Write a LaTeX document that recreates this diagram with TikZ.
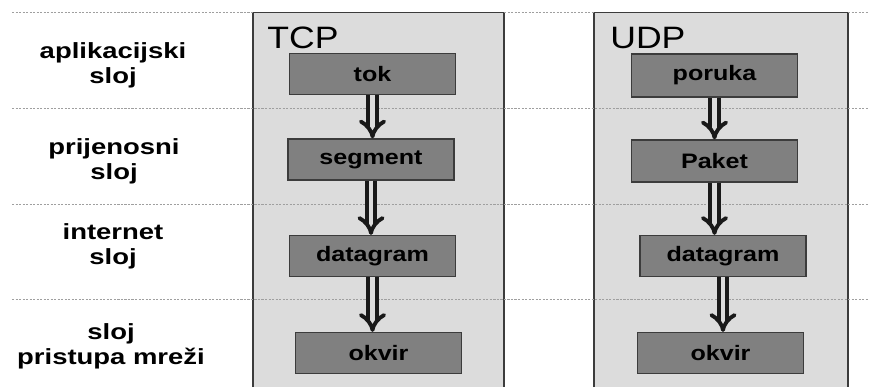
\documentclass[tikz,border=0pt]{standalone}
\usepackage{fontspec}
\setmainfont{Liberation Sans}
\newfontfamily\widesans[FakeStretch=1.25]{Liberation Sans}
\newfontfamily\boxsans[FakeStretch=1.2]{Liberation Sans}
\newfontfamily\titlesans[FakeStretch=1.15]{Liberation Sans}
\usetikzlibrary{arrows.meta}
\definecolor{panelgray}{HTML}{DCDCDC}
\definecolor{boxgray}{HTML}{808080}
\definecolor{edgegray}{HTML}{3C3C3C}
\tikzset{
  layertext/.style={align=center, inner sep=0pt,
    font=\widesans\bfseries\fontsize{12.5}{14.2}\selectfont},
  titletext/.style={anchor=base west, inner sep=0pt,
    font=\titlesans\fontsize{17.6}{18}\selectfont},
  unitbox/.style={draw=edgegray, line width=0.7pt, fill=boxgray,
    minimum width=3.32cm, minimum height=0.82cm, inner sep=0pt,
    font=\boxsans\bfseries\fontsize{11.9}{13}\selectfont},
  layerline/.style={gray!75, line width=0.4pt, dash pattern=on 1.2pt off 0.8pt},
  panel/.style={draw=edgegray, line width=0.7pt},
  downarrow/.style={draw=black!90, line width=2.2pt, double=panelgray,
    double distance=2.8pt, -{Implies[scale=1.2]}}
}
\begin{document}
\begin{tikzpicture}[x=0.02cm, y=-0.02cm]
                \useasboundingbox (0, 0) rectangle (869, 387);

                \fill[panelgray](253, 12.7) rectangle (504, 387);
                \draw[panel](253, 387) -- (253, 12.7) -- (504, 12.7) -- (504, 387);
                \fill[panelgray](594, 12.7) rectangle (848, 387);
                \draw[panel](594, 387) -- (594, 12.7) -- (848, 12.7) -- (848, 387);

                \draw[layerline](12, 12.7) to (253, 12.7);
                \draw[layerline](504, 12.7) to (594, 12.7);
                \draw[layerline](848, 12.7) to (869, 12.7);
                \draw[layerline](12, 108) to (869, 108);
                \draw[layerline](12, 204) to (869, 204);
                \draw[layerline](12, 299) to (869, 299);

                \node[layertext] (aplsloj) at (113, 65) {aplikacijski\\sloj};
                \node[layertext] (prijsloj) at (114, 161) {prijenosni\\sloj};
                \node[layertext] (intsloj) at (113, 246) {internet\\sloj};
                \node[layertext] (mrezasloj) at (111, 346) {sloj\\pristupa mreži};

                \node[titletext] (tcptitle) at (267, 48) {TCP};
                \node[titletext] (udptitle) at (610, 48) {UDP};

                \node[unitbox] (tcptok) at (372.5, 74) {tok};
                \node[unitbox] (tcpsegment) at (371, 159.5) {segment};
                \node[unitbox] (tcpdatagram) at (372.5, 256) {datagram};
                \node[unitbox] (tcpokvir) at (378.5, 353) {okvir};

                \node[unitbox, minimum height=0.86cm] (udpporuka) at (714.5, 75.5) {poruka};
                \node[unitbox, minimum height=0.84cm] (udppaket) at (714.5, 161) {Paket};
                \node[unitbox] (udpdatagram) at (723, 256) {datagram};
                \node[unitbox] (udpokvir) at (720.5, 353) {okvir};

                \draw[downarrow](tcptok.south) to (tcptok.south |- tcpsegment.north);
                \draw[downarrow](tcpsegment.south) to (tcpsegment.south |- tcpdatagram.north);
                \draw[downarrow](tcpdatagram.south) to (tcpdatagram.south |- tcpokvir.north);

                \draw[downarrow](udpporuka.south) to (udpporuka.south |- udppaket.north);
                \draw[downarrow](udppaket.south) to (udppaket.south |- udpdatagram.north);
                \draw[downarrow](udpdatagram.south) to (udpdatagram.south |- udpokvir.north);
            \end{tikzpicture}
\end{document}
